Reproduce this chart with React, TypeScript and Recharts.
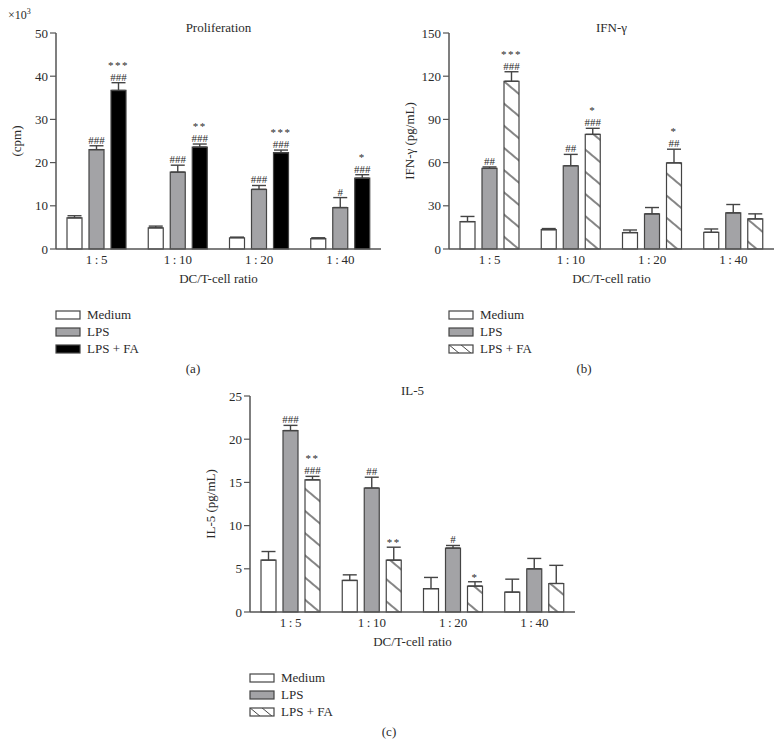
import { BarChart, Bar, XAxis, YAxis, ErrorBar, LabelList } from 'recharts';

const categories = ['1\u2009:\u20095', '1\u2009:\u200910', '1\u2009:\u200920', '1\u2009:\u200940'];
const groups = ['Medium', 'LPS', 'LPS + FA'];

// (a) proliferation, x10^3 cpm
const prolifMedium = [7.2, 4.9, 2.6, 2.4];
const prolifMediumErr = [0.5, 0.4, 0.15, 0.2];
const prolifLps = [23.0, 17.8, 13.8, 9.6];
const prolifLpsErr = [0.9, 1.6, 0.9, 2.3];
const prolifFa = [36.7, 23.6, 22.3, 16.4];
const prolifFaErr = [1.8, 0.7, 0.6, 0.8];
const prolifLpsHash = ['###', '###', '###', '#'];
const prolifFaHash = ['###', '###', '###', '###'];
const prolifFaStar = ['***', '**', '***', '*'];
const prolifTicks = [0, 10, 20, 30, 40, 50];

// (b) IFN-gamma, pg/mL
const ifnMedium = [19.0, 13.4, 11.4, 11.6];
const ifnMediumErr = [3.6, 0.8, 1.8, 2.3];
const ifnLps = [56.0, 57.8, 24.4, 25.1];
const ifnLpsErr = [1.0, 7.9, 4.4, 5.8];
const ifnFa = [116.5, 79.6, 59.8, 20.9];
const ifnFaErr = [6.6, 4.2, 9.5, 3.5];
const ifnLpsHash = ['##', '##', '', ''];
const ifnFaHash = ['###', '###', '##', ''];
const ifnFaStar = ['***', '*', '*', ''];
const ifnTicks = [0, 30, 60, 90, 120, 150];

// (c) IL-5, pg/mL
const il5Medium = [6.0, 3.65, 2.7, 2.3];
const il5MediumErr = [1.0, 0.65, 1.3, 1.5];
const il5Lps = [21.0, 14.35, 7.4, 5.0];
const il5LpsErr = [0.6, 1.25, 0.3, 1.2];
const il5Fa = [15.3, 6.0, 3.0, 3.3];
const il5FaErr = [0.4, 1.5, 0.5, 2.1];
const il5LpsHash = ['###', '##', '#', ''];
const il5FaHash = ['###', '', '', ''];
const il5FaStar = ['**', '**', '*', ''];
const il5Ticks = [0, 5, 10, 15, 20, 25];

const FONT = '"Liberation Serif", "DejaVu Serif", serif';
const INK = '#2b2b2b';
const EDGE = '#444';
const GRAY = '#a3a3a6';

function sigLabel(values: number[], errs: number[], hashes: string[], stars: string[]) {
  return (props: any) => {
    const vb = props.viewBox ?? props;
    const i = props.index;
    if (i == null || !values[i]) return null;
    const { x, y, width, height } = vb;
    const top = y - (errs[i] * height) / values[i];
    const cx = x + width / 2;
    const h = hashes[i];
    const s = stars[i];
    return (
      <g>
        {h && (
          <text x={cx} y={top - 2} fontSize={11} fontFamily={FONT} fill={INK} stroke="none" textAnchor="middle">
            {h}
          </text>
        )}
        {s && (
          <text
            x={cx}
            y={h ? top - 14 : top - 1}
            fontSize={11}
            fontFamily={FONT}
            fill={INK}
            stroke="none"
            textAnchor="middle"
            letterSpacing={1.5}
          >
            {s}
          </text>
        )}
      </g>
    );
  };
}

interface PanelProps {
  id: string;
  left: number;
  top: number;
  title: string;
  yLabel: string;
  ticks: number[];
  medium: number[];
  mediumErr: number[];
  lps: number[];
  lpsErr: number[];
  fa: number[];
  faErr: number[];
  lpsHash: string[];
  faHash: string[];
  faStar: string[];
  hatched: boolean;
  letter: string;
  letterX: number;
}

function LegendSwatch({ fill, id }: { fill: string; id: string }) {
  return (
    <svg width={26} height={10} style={{ display: 'block' }}>
      <defs>
        <pattern id={`leg-${id}`} patternUnits="userSpaceOnUse" width={12} height={10}>
          <line x1={0} y1={0} x2={12} y2={10} stroke={EDGE} strokeWidth={1} />
        </pattern>
      </defs>
      <rect x={1} y={1} width={24} height={8} fill={fill} stroke={EDGE} strokeWidth={1.2} />
    </svg>
  );
}

function Panel(p: PanelProps) {
  const rows = categories.map((c, i) => ({
    cat: c,
    medium: p.medium[i],
    mediumErr: [0, p.mediumErr[i]],
    lps: p.lps[i],
    lpsErr: [0, p.lpsErr[i]],
    fa: p.fa[i],
    faErr: [0, p.faErr[i]],
  }));
  const hatchId = `hatch-${p.id}`;
  const faFill = p.hatched ? `url(#${hatchId})` : '#000';
  const legendFills = ['#fff', GRAY, p.hatched ? `url(#leg-${p.id})` : '#000'];
  const yMax = p.ticks[p.ticks.length - 1];
  const noStars = p.lps.map(() => '');

  return (
    <div style={{ position: 'absolute', left: p.left, top: p.top, width: 390, height: 380 }}>
      <BarChart
        width={390}
        height={290}
        data={rows}
        margin={{ top: 33, right: 9, left: 0, bottom: 11 }}
        barSize={15}
        barGap={7}
      >
        <defs>
          <pattern
            id={hatchId}
            patternUnits="userSpaceOnUse"
            width={10}
            height={17}
            patternTransform="rotate(40)"
          >
            <line x1={0} y1={8} x2={10} y2={8} stroke="#333" strokeWidth={1.2} />
          </pattern>
        </defs>
        <XAxis
          dataKey="cat"
          height={30}
          tickLine={false}
          tickSize={4}
          tickMargin={2}
          axisLine={{ stroke: '#555', strokeWidth: 1.5 }}
          tick={{ fill: INK, fontSize: 13, fontFamily: FONT }}
        />
        <YAxis
          width={56}
          domain={[0, yMax]}
          ticks={p.ticks}
          interval={0}
          tickSize={6}
          tickMargin={2}
          axisLine={{ stroke: '#555', strokeWidth: 1.5 }}
          tickLine={{ stroke: '#555', strokeWidth: 1.2 }}
          tick={{ fill: INK, fontSize: 13, fontFamily: FONT }}
          label={({ viewBox }: any) => (
            <text
              x={viewBox.x + 16}
              y={viewBox.y + viewBox.height / 2}
              transform={`rotate(-90 ${viewBox.x + 16} ${viewBox.y + viewBox.height / 2})`}
              textAnchor="middle"
              dominantBaseline="central"
              fontSize={13}
              fontFamily={FONT}
              fill={INK}
            >
              {p.yLabel}
            </text>
          )}
        />
        <Bar dataKey="medium" fill="#fff" stroke={EDGE} strokeWidth={1.2} isAnimationActive={false}>
          <ErrorBar dataKey="mediumErr" width={7} stroke={EDGE} strokeWidth={1.4} direction="y" />
        </Bar>
        <Bar dataKey="lps" fill={GRAY} stroke={EDGE} strokeWidth={1.2} isAnimationActive={false}>
          <ErrorBar dataKey="lpsErr" width={7} stroke={EDGE} strokeWidth={1.4} direction="y" />
          <LabelList dataKey="lps" content={sigLabel(p.lps, p.lpsErr, p.lpsHash, noStars)} />
        </Bar>
        <Bar dataKey="fa" fill={faFill} stroke={EDGE} strokeWidth={1.2} isAnimationActive={false}>
          <ErrorBar dataKey="faErr" width={7} stroke={EDGE} strokeWidth={1.4} direction="y" />
          <LabelList dataKey="fa" content={sigLabel(p.fa, p.faErr, p.faHash, p.faStar)} />
        </Bar>
      </BarChart>

      <div
        style={{
          position: 'absolute',
          left: 56,
          width: 325,
          top: 20,
          textAlign: 'center',
          fontSize: 13,
          color: INK,
        }}
      >
        {p.title}
      </div>
      <div
        style={{
          position: 'absolute',
          left: 56,
          width: 325,
          top: 271,
          textAlign: 'center',
          fontSize: 13,
          color: INK,
        }}
      >
        DC/T-cell ratio
      </div>
      <div style={{ position: 'absolute', left: 55, top: 306 }}>
        {groups.map((g, k) => (
          <div key={g} style={{ display: 'flex', alignItems: 'center', height: 17 }}>
            <LegendSwatch fill={legendFills[k]} id={p.id} />
            <span style={{ marginLeft: 6, fontSize: 13, color: INK, lineHeight: '17px' }}>{g}</span>
          </div>
        ))}
      </div>
      <div
        style={{
          position: 'absolute',
          left: p.letterX - 20,
          width: 40,
          top: 361,
          textAlign: 'center',
          fontSize: 13,
          color: INK,
        }}
      >
        {p.letter}
      </div>
    </div>
  );
}

export default function App() {
  return (
    <div
      style={{
        position: 'absolute',
        left: 0,
        top: 0,
        width: 782,
        height: 746,
        background: '#fff',
        fontFamily: FONT,
        overflow: 'hidden',
      }}
    >
      <div style={{ position: 'absolute', left: 8, top: 7, fontSize: 12, color: INK }}>
        ×10<sup style={{ fontSize: 8 }}>3</sup>
      </div>
      <Panel
        id="a"
        left={0}
        top={0}
        title="Proliferation"
        yLabel="(cpm)"
        ticks={prolifTicks}
        medium={prolifMedium}
        mediumErr={prolifMediumErr}
        lps={prolifLps}
        lpsErr={prolifLpsErr}
        fa={prolifFa}
        faErr={prolifFaErr}
        lpsHash={prolifLpsHash}
        faHash={prolifFaHash}
        faStar={prolifFaStar}
        hatched={false}
        letter="(a)"
        letterX={193}
      />
      <Panel
        id="b"
        left={393}
        top={0}
        title="IFN-γ"
        yLabel="IFN-γ (pg/mL)"
        ticks={ifnTicks}
        medium={ifnMedium}
        mediumErr={ifnMediumErr}
        lps={ifnLps}
        lpsErr={ifnLpsErr}
        fa={ifnFa}
        faErr={ifnFaErr}
        lpsHash={ifnLpsHash}
        faHash={ifnFaHash}
        faStar={ifnFaStar}
        hatched={true}
        letter="(b)"
        letterX={191}
      />
      <Panel
        id="c"
        left={194}
        top={363}
        title="IL-5"
        yLabel="IL-5 (pg/mL)"
        ticks={il5Ticks}
        medium={il5Medium}
        mediumErr={il5MediumErr}
        lps={il5Lps}
        lpsErr={il5LpsErr}
        fa={il5Fa}
        faErr={il5FaErr}
        lpsHash={il5LpsHash}
        faHash={il5FaHash}
        faStar={il5FaStar}
        hatched={true}
        letter="(c)"
        letterX={195}
      />
    </div>
  );
}
